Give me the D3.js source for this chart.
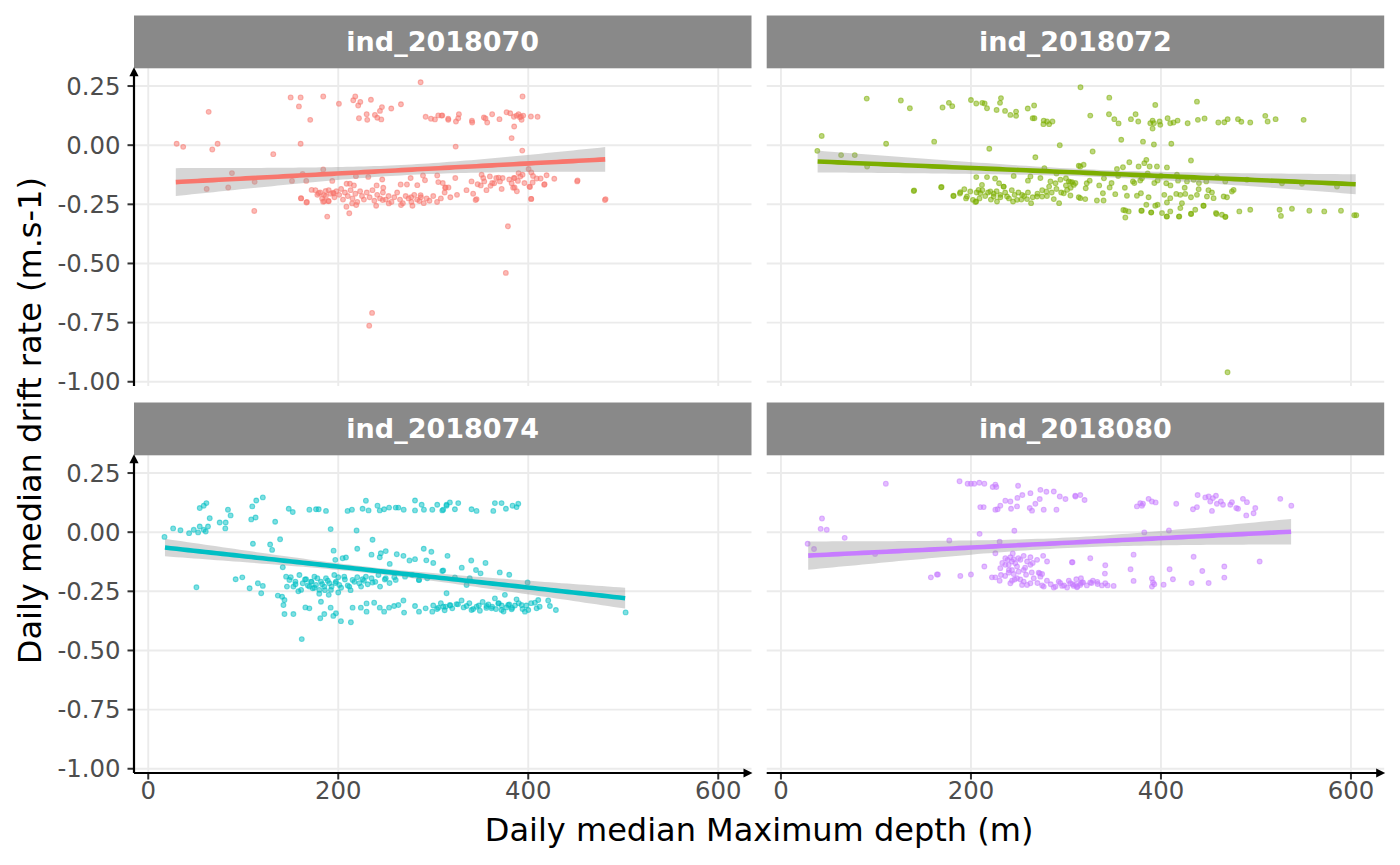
<!DOCTYPE html>
<html><head><meta charset="utf-8">
<script src="https://cdn.jsdelivr.net/npm/d3@7"></script>
<style>body{margin:0;background:#fff}svg{display:block}text{font-family:"DejaVu Sans",sans-serif}</style>
</head><body><svg id="c" width="1400" height="865"></svg>
<script>
const panelNames = ["ind_2018070","ind_2018072","ind_2018074","ind_2018080"];
const panelColors = ["#F8766D","#7CAE00","#00BFC4","#C77CFF"];
const xTicks = [0,200,400,600];
const xTickLabels = ["0","200","400","600"];
const yTicks = [0.25,0,-0.25,-0.5,-0.75,-1];
const yTickLabels = ["0.25","0.00","-0.25","-0.50","-0.75","-1.00"];
const xTitle = "Daily median Maximum depth (m)";
const yTitle = "Daily median drift rate (m.s-1)";

const pts2018070 = [
[286.7,0.266],[149.9,0.202],[160.4,0.202],[158.6,0.164],[184.2,0.206],[200.7,0.175],[215.8,0.19],[217.9,0.206],[223.2,0.183],[221,0.168],[234.4,0.192],[246,0.161],[255.8,0.155],[266,0.173],[229.9,0.131],[238.6,0.128],[243.9,0.145],[241.1,0.116],[230.5,0.107],[245.3,0.109],[221.8,0.114],[170.5,0.107],[63.6,0.141],[29.9,0.006],[36.8,-0.007],[67.4,-0.018],[73,0.006],[131.6,-0.038],[160.4,0.006],[292,0.12],[297.6,0.112],[301.8,0.109],[305.3,0.126],[309.5,0.126],[315.8,0.112],
[394,0.206],[308.8,0.125],[315.8,0.107],[323.9,0.1],[326.3,0.114],[327,0.131],[340.7,0.103],[341,0.096],[353.3,0.117],[355,0.113],[356.8,0.096],[362,0.131],[369.7,0.11],[377.2,0.139],[381,0.135],[384.9,0.12],[387.7,0.125],[389.8,0.131],[392.3,0.121],[393,0.107],[394.7,0.125],[391.2,0.118],[402.8,0.121],[409.8,0.12],[385.2,0.079],[382.5,0.03],[393.7,-0.023],[323.6,-0.006],[400.4,-0.101],[403.2,-0.115],[419.3,-0.127],[417.2,-0.165],[408.8,-0.141],[413,-0.141],[427.4,-0.142],[451.9,-0.149],[481.4,-0.228],[403.2,-0.227],[401.8,-0.177],[404.6,-0.158],[345.6,-0.228],[316,-0.179],[310,-0.16],[323.2,-0.139],[340.3,-0.153],[346.7,-0.165],[352.6,-0.139],[350.9,-0.125],[353.7,-0.153],[360.3,-0.172],[364.2,-0.161],[359.6,-0.132],[366.3,-0.139],[370.2,-0.153],[373,-0.139],[368.8,-0.137],[382.5,-0.161],[384.9,-0.139],[385.6,-0.179],[389.1,-0.151],[391.6,-0.132],[394,-0.125],[389.8,-0.118],[385.6,-0.139],
[88.1,-0.118],[61.5,-0.185],[84.2,-0.179],[112,-0.155],[151.3,-0.151],[162.5,-0.122],[166.3,-0.151],[184.2,-0.103],[193.7,-0.151],[160.7,-0.224],[167,-0.24],[185.3,-0.237],[189.9,-0.237],[172,-0.189],[179.4,-0.203],[186.7,-0.194],[194.7,-0.201],[208.8,-0.163],[212.3,-0.163],[216.5,-0.17],[218.6,-0.131],[231.6,-0.134],[240.4,-0.17],[246.3,-0.145],[247.4,-0.18],[265.7,-0.166],[272.3,-0.166],[276.2,-0.139],[283.2,-0.169],[289.2,-0.128],[291.3,-0.148],[304.2,-0.128],[305.3,-0.156],[313,-0.179],
[111.6,-0.278],[188.4,-0.302],[211.6,-0.288],[208.6,-0.26],[161,-0.225],[166.5,-0.242],[184.1,-0.239],[189.7,-0.236],[185,-0.211],[195.3,-0.204],[214.6,-0.246],[218.9,-0.253],[239.9,-0.256],[246.8,-0.232],[253.2,-0.246],[266.1,-0.253],[278.1,-0.256],[285.4,-0.236],[286.7,-0.211],[276.8,-0.22],[312.5,-0.18],[344.6,-0.232],[403,-0.227],[480.7,-0.232],[451.5,-0.153],[416.8,-0.167],[384.1,-0.18],[401.3,-0.175],[378.6,-0.343],[376.4,-0.54],[235.6,-0.709],[232.6,-0.763],
[176,-0.19],[178,-0.21],[181,-0.2],[183,-0.225],[187,-0.215],[190,-0.19],[192,-0.205],[196,-0.22],[198,-0.195],[201,-0.21],[203,-0.185],[205,-0.23],[207,-0.2],[210,-0.215],[213,-0.19],[215,-0.225],[218,-0.205],[220,-0.24],[223,-0.195],[225,-0.215],[227,-0.23],[230,-0.2],[233,-0.22],[236,-0.19],[238,-0.235],[241,-0.21],[244,-0.225],[247,-0.2],[250,-0.23],[253,-0.215],[256,-0.24],[259,-0.22],[262,-0.2],[265,-0.23],[268,-0.245],[271,-0.215],[274,-0.225],[277,-0.24],[280,-0.21],[283,-0.23],[287,-0.22],[290,-0.245],[293,-0.225],[296,-0.235],[300,-0.215],[304,-0.24],[308,-0.225],[312,-0.2],[318,-0.22],[325,-0.21],[335,-0.19],[342,-0.205],[350,-0.17],[356,-0.19],[362,-0.16],[372,-0.185],[380,-0.145],[388,-0.195],[396,-0.16],[405,-0.13]
];

const pts2018072 = [
[90.3,0.197],[126.2,0.189],[135.7,0.156],[170.1,0.159],[176.8,0.179],[180.3,0.165],[200,0.191],[205.6,0.176],[211.9,0.179],[214.4,0.176],[216.9,0.156],[230.6,0.179],[231.6,0.199],[227,0.149],[235.9,0.145],[241.5,0.128],[247.5,0.142],[247.5,0.124],[259.8,0.155],[266.5,0.168],[265,0.114],[266.8,0.114],[276.6,0.104],[276.3,0.089],[280.1,0.1],[285.8,0.1],[282.3,0.089],[315.3,0.245],[42.9,0.039],[38.3,-0.024],[63.3,-0.042],[77.7,-0.042],[110.7,0.006],[161.3,0.015],[219.3,-0.015],[293.5,0],[267.8,-0.051],[90.7,-0.09],[140.2,-0.191],[169.1,-0.177],
[181.7,-0.214],[188.8,-0.199],[193,-0.186],[195.8,-0.217],[199.3,-0.196],[202.1,-0.231],[205.6,-0.238],[209.8,-0.203],[208.1,-0.189],[211.6,-0.168],[220.4,-0.196],[223.9,-0.217],[227.4,-0.238],[230.9,-0.21],[234.4,-0.175],[238,-0.217],[244.3,-0.238],[248.5,-0.231],[253.8,-0.21],[259,-0.228],[263.3,-0.245],[269.6,-0.217],[274.9,-0.217],[279.4,-0.196],[282.3,-0.175],[287.2,-0.228],[292.8,-0.245],[297.7,-0.203],[301.2,-0.189],[304.7,-0.213],[308.3,-0.168],[313.5,-0.22],
[205.6,-0.135],[216.9,-0.135],[225.4,-0.141],[229.6,-0.161],[234.4,-0.175],[262.6,-0.132],[273.1,-0.139],[277.3,-0.097],[283.7,-0.153],[289,-0.161],[294.2,-0.146],[303,-0.153],[306.5,-0.156],[313.5,-0.087],
[345.6,0.201],[325.6,0.125],[345.3,0.131],[350.9,0.11],[355.4,0.092],[368.4,0.11],[373.3,0.131],[376.1,0.1],[394,0.17],[388.8,0.093],[391.2,0.104],[391.2,0.07],[392.6,0.093],[398.6,0.1],[399.3,0.086],[407,0.114],[409.8,0.093],[413.3,0.096],[417.5,0.104],[428.1,0.093],[437.9,0.184],[438.9,0.107],[445.9,0.113],[460.4,0.096],[466.7,0.097],[470.2,0.11],[481.1,0.11],[484.6,0.099],[494,0.096],[509.8,0.124],[512.3,0.1],[520.7,0.11],[550.2,0.107],[358.2,0.023],[328.1,-0.027],[381.1,0.015],[392.6,0.003],[410.9,0.006],[431.6,-0.065],
[315.1,-0.09],[318.6,-0.083],[304.6,-0.156],[321.9,-0.161],[320.8,-0.182],[353.7,-0.101],[360,-0.093],[366.7,-0.072],[376.5,-0.09],[382.5,-0.076],[384.6,-0.062],[388.1,-0.09],[395.8,-0.09],[406.3,-0.094],[370.5,-0.153],[378.2,-0.149],[396.5,-0.149],[405.6,-0.161],[416.8,-0.125],[427.4,-0.153],[434.4,-0.146],[447.7,-0.153],[458.9,-0.135],[467.7,-0.153],[490.5,-0.146],[527.4,-0.161],[548.4,-0.163],[585.3,-0.175],
[315.1,-0.224],[320.3,-0.228],[332.6,-0.234],[338.9,-0.203],[339.6,-0.234],[346,-0.179],[351.9,-0.207],[364.2,-0.214],[374.7,-0.214],[378.9,-0.203],[387,-0.22],[384.6,-0.252],[394,-0.256],[396.5,-0.252],[403.5,-0.21],[406.3,-0.242],[409.8,-0.224],[416.1,-0.206],[420.4,-0.21],[425.6,-0.206],[422.1,-0.245],[420.4,-0.266],[431.6,-0.22],[437.9,-0.21],[439.7,-0.186],[448.4,-0.217],[453.7,-0.2],[455.4,-0.224],[466,-0.217],[469.5,-0.22],[474.7,-0.196],[476.5,-0.189],[362.5,-0.276],[366,-0.28],[362.5,-0.306],[379.3,-0.277],[389.8,-0.284],[401.1,-0.287],[406.3,-0.301],[409.8,-0.28],[419.3,-0.301],[431.6,-0.29],[436.1,-0.273],[444.9,-0.256],[457.9,-0.287],[464.2,-0.294],[467.7,-0.304],[482.5,-0.28],[494,-0.273],[524.9,-0.273],[526.3,-0.299],[537.9,-0.269],[556.2,-0.277],[571.9,-0.28],[589.5,-0.277],[603.5,-0.296],[605.6,-0.296],
[470.1,-0.96],[139.8,-0.194],[168.6,-0.178],[181.5,-0.215],[188.4,-0.204],[194.8,-0.225],[204.7,-0.24],[360.4,-0.274],[379.8,-0.277],[389.7,-0.285],[406,-0.302],[418.9,-0.302],[431.8,-0.291],[444.7,-0.256],[458.5,-0.291],[467.9,-0.302],
[206,-0.2],[209,-0.225],[212,-0.19],[215,-0.215],[218,-0.2],[221,-0.23],[224,-0.205],[227,-0.195],[231,-0.22],[236,-0.2],[240,-0.225],[243,-0.19],[246,-0.21],[250,-0.2],[253,-0.23],[256,-0.215],[260,-0.2],[265,-0.22],[270,-0.205],[275,-0.19],[280,-0.215],[285,-0.2],[290,-0.185],[295,-0.2],[300,-0.17],[305,-0.18],[310,-0.16],[325,-0.15],[335,-0.17],[340,-0.14],[348,-0.16],[355,-0.13],[362,-0.18],[372,-0.16],[380,-0.14],[386,-0.12],[393,-0.16],[400,-0.13],[410,-0.17],[418,-0.15],[425,-0.18],[440,-0.16],[450,-0.19],[260,-0.15],[245,-0.13],[290,-0.12],[300,-0.14]
];

const pts2018074 = [
[17.1,-0.02],[26.2,0.016],[33.9,0.008],[43,-0.004],[47.9,0.01],[52.5,-0.001],[54.2,0.024],[58.4,0.01],[62.9,0.024],[60.5,0.003],[54.2,0.102],[58.4,0.112],[61.2,0.123],[64.7,0.059],[75.2,0.041],[81.5,0.041],[81.1,0.016],[83.9,0.095],[86.7,0.071],[108.4,0.054],[113,0.062],[109.5,0.109],[113.7,0.134],[120.6,0.147],[133.6,0.044],[147.9,0.099],[152.1,0.085],[169.6,0.095],[176.6,0.097],[179.4,0.097],[187.1,0.09],
[209.8,0.09],[214.4,0.095],[225.6,0.099],[229.1,0.133],[231.9,0.092],[241.3,0.112],[243.7,0.092],[248.3,0.097],[253.5,0.104],[260.5,0.104],[263.3,0.104],[268.9,0.095],[280.8,0.134],[280.8,0.092],[287.8,0.116],[290.2,0.095],[299,0.095],[304.2,0.116],[309.5,0.092],[314,0.112],
[110.2,-0.049],[128.3,-0.052],[130.4,-0.075],[138.8,-0.03],[192,0.013],[219.3,0.007],[236.1,-0.032],[195.1,-0.078],[196.9,-0.117],[204.6,-0.11],[208.1,-0.107],[244.8,-0.089],[243.7,-0.106],[254.2,-0.134],[261.6,-0.093],[268.6,-0.1],[280.8,-0.114],[292.7,-0.119],[298,-0.083],[309.5,-0.164],[285,-0.202],
[92,-0.199],[99,-0.191],[106.7,-0.237],[115.4,-0.216],[118.9,-0.258],[120.6,-0.227],[136.4,-0.268],[140.9,-0.273],[142.3,-0.308],[143.4,-0.287],[141.6,-0.148],[145.1,-0.188],[148.6,-0.202],[152.8,-0.23],[154.9,-0.209],[159.1,-0.181],[160.9,-0.244],[162.6,-0.216],[166.1,-0.199],[169.6,-0.23],[171.4,-0.209],[173.1,-0.237],[174.9,-0.188],[176.6,-0.223],[180.1,-0.244],[181.8,-0.209],[185.3,-0.23],[187.1,-0.195],[190.6,-0.216],[192.3,-0.244],[195.8,-0.181],[197.6,-0.209],[201.1,-0.223],[206.3,-0.188],[211.6,-0.23],[215.1,-0.202],[222.1,-0.216],[225.6,-0.199],[229.1,-0.188],[236.1,-0.213],[242.3,-0.181],[250,-0.195],[260.5,-0.202],[270.3,-0.188],[278,-0.181],[285,-0.202],[293.7,-0.195],
[50.7,-0.233],[143.4,-0.346],[152.8,-0.346],[165.4,-0.318],[169.6,-0.322],[181.8,-0.294],[181.1,-0.364],[185.3,-0.346],[192,-0.319],[194.8,-0.354],[197.6,-0.343],[202.8,-0.376],[213.3,-0.381],[215.1,-0.319],[223.8,-0.319],[229.8,-0.301],[229.8,-0.336],[237.8,-0.298],[243.7,-0.319],[248.3,-0.336],[253.5,-0.319],[258.8,-0.312],[263.3,-0.308],[268.6,-0.289],[269.3,-0.34],[280.8,-0.312],[285,-0.336],[292,-0.322],[299,-0.336],[305.3,-0.319],[313,-0.315],[161.6,-0.452],
[310.5,0.095],[314,0.116],[317.5,0.126],[322.8,0.097],[326.3,0.123],[340.3,0.097],[345.6,0.09],[363.2,0.09],[364.9,0.123],[371.9,0.123],[376.5,0.099],[383.5,0.112],[389.5,0.12],[387.7,0.106],
[310.5,-0.162],[349.8,-0.174],[399.3,-0.213],[335.1,-0.223],[314,-0.258],[322.8,-0.191],[338.4,-0.195],
[310.5,-0.315],[317.5,-0.308],[324.5,-0.304],[329.8,-0.289],[335.1,-0.312],[340.3,-0.329],[345.6,-0.315],[349.1,-0.332],[356.1,-0.312],[361.4,-0.322],[364.9,-0.28],[368.4,-0.301],[371.9,-0.329],[375.4,-0.265],[378.9,-0.308],[382.5,-0.326],[387.7,-0.284],[393,-0.308],[396.5,-0.336],[400,-0.329],[407,-0.298],[410.5,-0.287],[408.8,-0.322],[421,-0.289],[422.8,-0.312],[429.1,-0.329],[502.5,-0.339],
[300,-0.31],[304,-0.325],[308,-0.3],[312,-0.33],[318,-0.31],[320,-0.322],[326,-0.305],[332,-0.318],[338,-0.3],[342,-0.325],[348,-0.31],[352,-0.295],[356,-0.32],[358,-0.305],[362,-0.315],[366,-0.325],[369,-0.3],[372,-0.31],[374,-0.335],[377,-0.318],[380,-0.305],[383,-0.32],[386,-0.31],[390,-0.3],[394,-0.325],[398,-0.31],[403,-0.3],[412,-0.315],
[165,-0.2],[168,-0.225],[172,-0.21],[175,-0.235],[178,-0.195],[183,-0.22],[186,-0.245],[189,-0.205],[193,-0.23],[197,-0.215],[200,-0.19],[203,-0.235],[207,-0.2],[210,-0.225],[213,-0.245],[217,-0.21],[220,-0.19],[224,-0.23],[227,-0.205],[231,-0.22],[235,-0.195],[239,-0.21],[244,-0.23],[249,-0.2],[254,-0.215],[259,-0.19],[150,-0.19],[155,-0.22],[158,-0.25],[146,-0.23],[180,-0.26],[190,-0.265],[200,-0.255],
[220,-0.07],[235,-0.095],[250,-0.08],[275,-0.12],[300,-0.13],[290,-0.07],[315,-0.1],[330,-0.15],[340,-0.12],[355,-0.13],[370,-0.17],[380,-0.18],[345,-0.16]
];

const pts2018080 = [
[110.4,0.205],[188,0.215],[196.5,0.205],[200,0.205],[203.5,0.205],[208.8,0.209],[214.1,0.205],[222.9,0.191],[225.7,0.201],[226.7,0.191],
[249.6,0.196],[254.1,0.157],[248.9,0.145],[262.6,0.165],[273.1,0.179],[279.4,0.171],[287.2,0.172],[293.5,0.151],[299.5,0.14],[310,0.151],
[209.8,0.106],[213.4,0.106],[225.7,0.095],[228.1,0.097],[230.9,0.112],[236.2,0.133],[241.5,0.13],[242.2,0.099],[248.5,0.109],[261.9,0.102],[264.3,0.091],[267.8,0.12],[272.4,0.14],[276.6,0.095],[290,0.095],
[43.2,0.058],[41.8,0.014],[48.2,0.01],[67.1,-0.024],[28.1,-0.049],[34.8,-0.071],[99.1,-0.092],[177.2,-0.035],[209.1,-0.007],[245.7,0.006],[230.2,-0.04],[225.7,-0.089],[214.1,-0.145],
[157.8,-0.191],[164.2,-0.179],[165.2,-0.179],[188.8,-0.185],[200,-0.179],
[222.1,-0.191],[225.7,-0.191],[230.2,-0.205],[231.6,-0.181],[241.5,-0.216],[243.2,-0.205],[248.5,-0.195],[253.8,-0.223],[255.5,-0.209],[259.1,-0.223],[262.6,-0.216],[266.1,-0.195],[272.4,-0.174],[273.1,-0.188],[276.6,-0.23],[287.2,-0.234],[292.4,-0.209],[296,-0.227],[301.2,-0.234],[310,-0.223],[315.3,-0.216],
[236.2,-0.11],[238.6,-0.117],[241.5,-0.106],[243.2,-0.124],[245,-0.114],[246.7,-0.131],[239.7,-0.138],[248.5,-0.145],[252,-0.117],[255.5,-0.1],[259.1,-0.124],[262.6,-0.138],[255.5,-0.16],[250.2,-0.167],[243.2,-0.16],[236.2,-0.138],[239.7,-0.171],[245,-0.177],[262.6,-0.106],[276,-0.1],[269.6,-0.117],[280.1,-0.124],[271.3,-0.171],[274.9,-0.177],[306.9,-0.127],[230.9,-0.152],
[309.8,0.154],[315.1,0.157],[319.6,0.136],[374.7,0.109],[378.2,0.123],[381.1,0.12],[387,0.141],[390.5,0.13],[394.4,0.126],[380,0.112],[416.1,0.12],
[433.7,0.097],[437.9,0.106],[438.6,0.157],[446.7,0.147],[450.2,0.151],[454.7,0.144],[457.9,0.154],[451.9,0.13],[453.7,0.09],[458.9,0.12],[463.1,0.13],[465.3,0.116],[473,0.116],[474.7,0.127],[479.3,0.102],[481.1,0.099],[486.3,0.141],[490.5,0.127],[489.8,0.071],[497.5,0.08],[499.3,0.102],[525.6,0.141],[537.2,0.112],
[382.5,-0.001],[408.4,0.007],
[306.3,-0.127],[325.6,-0.11],[341.4,-0.14],[341,-0.175],[368,-0.157],[371.2,-0.095],[409.1,-0.157],[434.4,-0.104],[443.5,-0.164],[466.7,-0.145],[503.9,-0.124],
[304.6,-0.216],[308.1,-0.227],[311.6,-0.233],[315.1,-0.223],[316.8,-0.213],[310.9,-0.199],[315.8,-0.195],[325.6,-0.213],[328.4,-0.205],[333.3,-0.219],[337.9,-0.225],[341.4,-0.216],[343.8,-0.225],[350.2,-0.227],[371.2,-0.206],[390.5,-0.196],[391.6,-0.213],[393,-0.22],[390.5,-0.23],[402.8,-0.222],[412.6,-0.199],[432.3,-0.215],[450.2,-0.215],[466.7,-0.192],
[270,-0.215],[275,-0.225],[280,-0.205],[284,-0.22],[289,-0.23],[294,-0.215],[298,-0.225],[303,-0.205],[307,-0.22],[312,-0.23],[318,-0.212],[322,-0.225],[327,-0.215],[333,-0.21],[252,-0.2],[258,-0.18],[264,-0.17],[240,-0.16],[233,-0.13],[250,-0.11],[257,-0.15],[265,-0.13],[244,-0.09],[236,-0.185],[246,-0.2]
];

const panelPoints = [pts2018070, pts2018072, pts2018074, pts2018080];
// smooth (lm) fit: x extent, fitted y at both ends, CI half-width [left, minimum, right]
const fitRangeX = [[29,481],[38.6,605],[17.6,502],[28.7,537]];
const fitEndY = [[-0.156,-0.060],[-0.069,-0.165],[-0.065,-0.279],[-0.099,0.002]];
const fitHalfWidth = [[0.059,0.022,0.052],[0.046,0.015,0.042],[0.037,0.013,0.044],[0.060,0.022,0.054]];

const svg = d3.select("#c");
const colLeft = [134, 766.7];
const panelW = 617.5;
const rowsL = [{strip:15.5, top:68.3, bottom:386},{strip:402.5, top:455.3, bottom:773}];
const xDomain = [-15, 635];
const yDomain = [-1.018, 0.325];

const defs = svg.append("defs");

panelNames.forEach((name, i) => {
  const col = i % 2, row = Math.floor(i / 2);
  const L = colLeft[col], R = L + panelW, rr = rowsL[row];
  const x = d3.scaleLinear().domain(xDomain).range([L, R]);
  const y = d3.scaleLinear().domain(yDomain).range([rr.bottom, rr.top]);
  const g = svg.append("g");
  const clipId = "clip" + i;
  defs.append("clipPath").attr("id", clipId).append("rect")
    .attr("x", L).attr("y", rr.top).attr("width", panelW).attr("height", rr.bottom - rr.top);

  // grid
  g.append("g").selectAll("line").data(xTicks).join("line")
    .attr("x1", d => x(d)).attr("x2", d => x(d)).attr("y1", rr.top).attr("y2", rr.bottom)
    .attr("stroke", "#EBEBEB").attr("stroke-width", 1.9);
  g.append("g").selectAll("line").data(yTicks).join("line")
    .attr("x1", L).attr("x2", R).attr("y1", d => y(d)).attr("y2", d => y(d))
    .attr("stroke", "#EBEBEB").attr("stroke-width", 1.9);

  const pg = g.append("g").attr("clip-path", `url(#${clipId})`);
  const color = panelColors[i];
  pg.append("g").selectAll("circle").data(panelPoints[i]).join("circle")
    .attr("cx", d => x(d[0])).attr("cy", d => y(d[1])).attr("r", 2.4)
    .attr("fill", color).attr("fill-opacity", 0.5)
    .attr("stroke", color).attr("stroke-opacity", 0.55).attr("stroke-width", 1.1);

  // smooth band
  const [x0, x1] = fitRangeX[i];
  const [y0, y1] = fitEndY[i];
  const [hL, hM, hR] = fitHalfWidth[i];
  const A = hM * hM;
  const dL = Math.sqrt(hL * hL - A), dR = Math.sqrt(hR * hR - A);
  const xbar = (x0 * dR + x1 * dL) / (dL + dR);
  const B = (hL * hL - A) / ((xbar - x0) * (xbar - x0));
  const xs = d3.range(0, 81).map(k => x0 + (x1 - x0) * k / 80);
  const band = xs.map(xv => {
    const yv = y0 + (y1 - y0) * (xv - x0) / (x1 - x0);
    const h = Math.sqrt(A + B * (xv - xbar) * (xv - xbar));
    return {x: xv, y: yv, lo: yv - h, hi: yv + h};
  });
  pg.append("path").datum(band)
    .attr("d", d3.area().x(d => x(d.x)).y0(d => y(d.lo)).y1(d => y(d.hi)))
    .attr("fill", "#999999").attr("fill-opacity", 0.4);
  pg.append("path").datum(band)
    .attr("d", d3.line().x(d => x(d.x)).y(d => y(d.y)))
    .attr("fill", "none").attr("stroke", color).attr("stroke-width", 4.6);

  // strip
  g.append("rect").attr("x", L).attr("y", rr.strip).attr("width", panelW).attr("height", rr.top - rr.strip)
    .attr("fill", "#898989");
  g.append("text").attr("x", (L + R) / 2).attr("y", (rr.strip + rr.top) / 2 + 9.5)
    .attr("text-anchor", "middle").attr("fill", "#fff").attr("font-weight", "bold")
    .attr("font-size", 27).text(name);

  // y axis (left column)
  if (col === 0) {
    const ya = g.append("g");
    ya.selectAll("line").data(yTicks).join("line")
      .attr("x1", L - 6.5).attr("x2", L).attr("y1", d => y(d)).attr("y2", d => y(d))
      .attr("stroke", "#333").attr("stroke-width", 2);
    ya.selectAll("text").data(yTicks).join("text")
      .attr("x", L - 13.5).attr("y", d => y(d) + 8.6).attr("text-anchor", "end")
      .attr("font-size", 24.4).attr("fill", "#4D4D4D").text((d, k) => yTickLabels[k]);
    ya.append("line").attr("x1", L).attr("x2", L).attr("y1", rr.bottom).attr("y2", rr.top + 6)
      .attr("stroke", "#000").attr("stroke-width", 2.2);
    ya.append("path").attr("d", `M${L},${rr.top - 1} L${L - 4.6},${rr.top + 8} L${L + 4.6},${rr.top + 8} Z`).attr("fill", "#000");
  }
  // x axis (bottom row)
  if (row === 1) {
    const xa = g.append("g");
    xa.selectAll("line").data(xTicks).join("line")
      .attr("x1", d => x(d)).attr("x2", d => x(d)).attr("y1", rr.bottom).attr("y2", rr.bottom + 6.5)
      .attr("stroke", "#333").attr("stroke-width", 2);
    xa.selectAll("text").data(xTicks).join("text")
      .attr("x", d => x(d)).attr("y", rr.bottom + 26).attr("text-anchor", "middle")
      .attr("font-size", 24.4).attr("fill", "#4D4D4D").text((d, k) => xTickLabels[k]);
    xa.append("line").attr("x1", L).attr("x2", R - 6).attr("y1", rr.bottom).attr("y2", rr.bottom)
      .attr("stroke", "#000").attr("stroke-width", 2.2);
    xa.append("path").attr("d", `M${R + 1},${rr.bottom} L${R - 8},${rr.bottom - 4.6} L${R - 8},${rr.bottom + 4.6} Z`).attr("fill", "#000");
  }
});

svg.append("text").attr("x", (colLeft[0] + colLeft[1] + panelW) / 2).attr("y", 841)
  .attr("text-anchor", "middle").attr("font-size", 32).attr("fill", "#000").text(xTitle);
svg.append("text").attr("transform", `translate(41,${(rowsL[0].top + rowsL[1].bottom) / 2}) rotate(-90)`)
  .attr("text-anchor", "middle").attr("font-size", 32).attr("fill", "#000").text(yTitle);
</script></body></html>
